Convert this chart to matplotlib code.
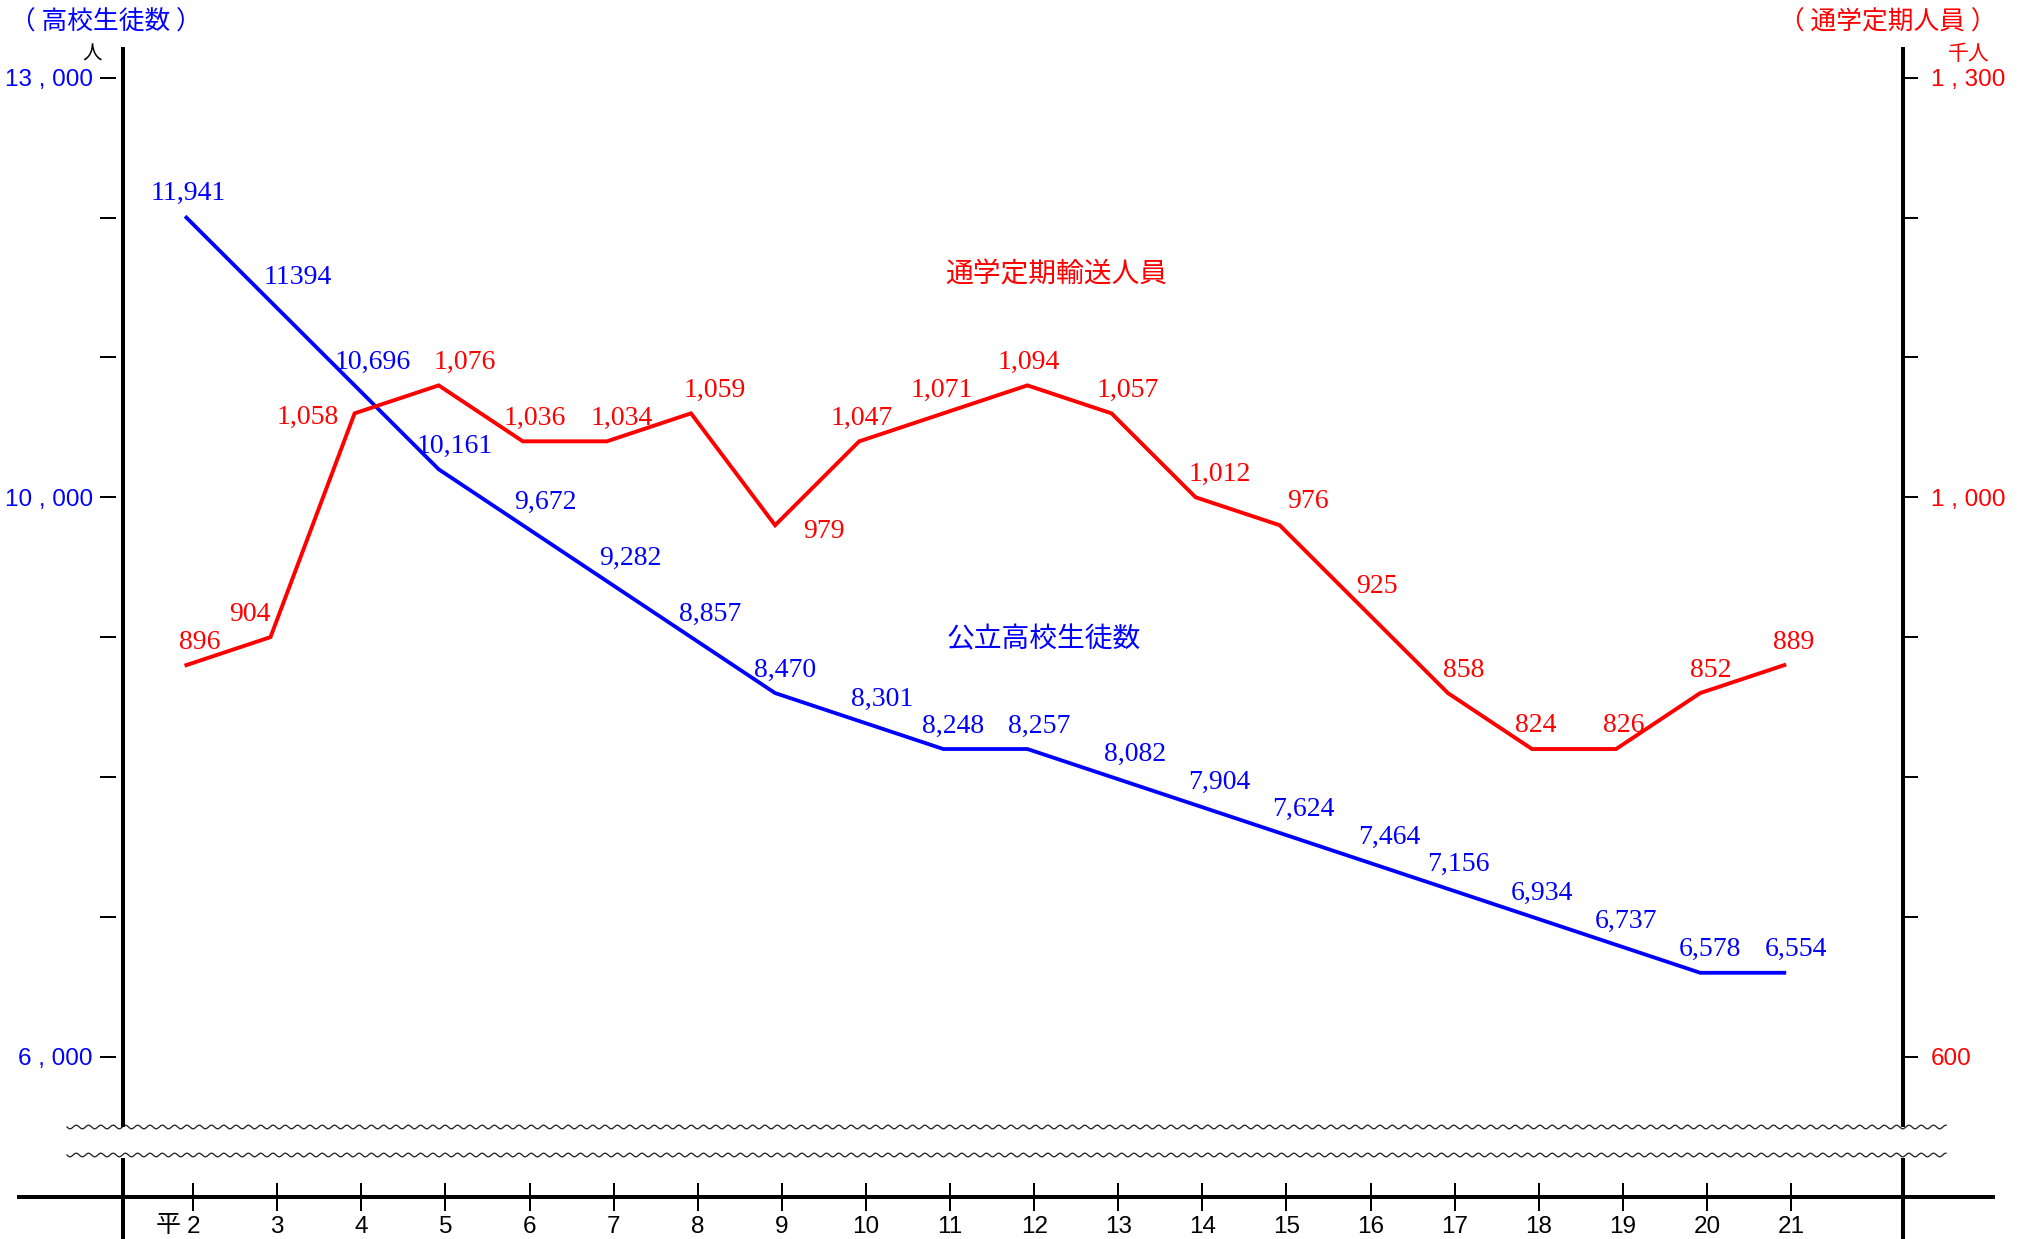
import numpy as np
import matplotlib
matplotlib.use("Agg")
import matplotlib.pyplot as plt

# ---------------- data ----------------
years = [2, 3, 4, 5, 6, 7, 8, 9, 10, 11, 12, 13, 14, 15, 16, 17, 18, 19, 20, 21]
year_labels = ["2", "3", "4", "5", "6", "7", "8", "9", "10", "11", "12", "13",
               "14", "15", "16", "17", "18", "19", "20", "21"]
era_prefix = "平"

# 公立高校生徒数 (人) : value labels and the line heights as drawn
students_text = ["11,941", "11394", "10,696", "10,161", "9,672", "9,282", "8,857",
                 "8,470", "8,301", "8,248", "8,257", "8,082", "7,904", "7,624",
                 "7,464", "7,156", "6,934", "6,737", "6,578", "6,554"]
students_line = [12000, 11400, 10800, 10200, 9800, 9400, 9000, 8600, 8400, 8200,
                 8200, 8000, 7800, 7600, 7400, 7200, 7000, 6800, 6600, 6600]

# 通学定期輸送人員 (千人)
commuters_text = ["896", "904", "1,058", "1,076", "1,036", "1,034", "1,059", "979",
                  "1,047", "1,071", "1,094", "1,057", "1,012", "976", "925", "858",
                  "824", "826", "852", "889"]
commuters_line = [880, 900, 1060, 1080, 1040, 1040, 1060, 980, 1040, 1060, 1080,
                  1060, 1000, 980, 920, 860, 820, 820, 860, 880]

left_ticks = [6000, 7000, 8000, 9000, 10000, 11000, 12000, 13000]
left_ticklabels = ["6 , 000", "", "", "", "10 , 000", "", "", "13 , 000"]
right_ticks = [600, 700, 800, 900, 1000, 1100, 1200, 1300]
right_ticklabels = ["600", "", "", "", "1 , 000", "", "", "1 , 300"]

# ---------------- styling / geometry (pixels) ----------------
W, H, DPI = 2024, 1239, 100
PT = 72.0 / DPI
BLUE, RED = "#0000FF", "#FF0000"
SERIF = "Liberation Serif"
SANS = ["Liberation Sans", "Noto Sans CJK JP"]
CJK = ["Noto Sans CJK JP", "DejaVu Sans"]
TICK_FS = 17.5
VAL_FS = 20

L_X, R_X = 123.3, 1902.7        # spines
TOP_Y, BRK_Y = 49.0, 1125.0     # axis top / break
X0_PX, XSTEP = 186.4, 84.1      # first point, year spacing
Y_HI, Y_LO = 77.7, 1056.7       # pixel of 13000/1300 and 6000/600
BASE_Y = 1196.7                 # bottom axis line

# label offsets (px, centre of label relative to point; y down)
blue_dx = [2, 27, 18, 16, 23, 23, 19, 10, 23, 10, 12, 24, 24, 24, 25, 10, 10, 10, 10, 12]
blue_dy = [-27, -27, -26, -26, -26, -26, -26, -26, -25, -26, -26, -26, -26, -27,
           -26, -27, -26, -26, -26, -26]
red_dx = [13, -21, -47, 26, 12, 15, 24, 49, 3, -2, 1, 16, 24, 28, 13, 16, 4, 8, 11, 9]
red_dy = [-26, -26, 1, -26, -26, -26, -26, 3, -26, -26, -26, -26, -26, -27, -26,
          -26, -27, -27, -26, -26]

fig = plt.figure(figsize=(W / DPI, H / DPI), dpi=DPI)

# decoration overlay in pixel coordinates
deco = fig.add_axes([0, 0, 1, 1], zorder=0)
deco.set_xlim(0, W)
deco.set_ylim(H, 0)
deco.axis("off")
deco.patch.set_visible(False)

def rect(x0, y0, x1, y1):
    return [x0 / W, 1 - y1 / H, (x1 - x0) / W, (y1 - y0) / H]

ax = fig.add_axes(rect(L_X, TOP_Y, R_X, BRK_Y), zorder=2)
ax.patch.set_visible(False)
xlim = (2 + (L_X - X0_PX) / XSTEP, 2 + (R_X - X0_PX) / XSTEP)
ax.set_xlim(*xlim)
ppu_l = (Y_LO - Y_HI) / 7000.0
ax.set_ylim(6000 - (BRK_Y - Y_LO) / ppu_l, 13000 + (Y_HI - TOP_Y) / ppu_l)

ax2 = ax.twinx()
ppu_r = (Y_LO - Y_HI) / 700.0
ax2.set_ylim(600 - (BRK_Y - Y_LO) / ppu_r, 1300 + (Y_HI - TOP_Y) / ppu_r)

for a in (ax, ax2):
    for s in ("top", "bottom"):
        a.spines[s].set_visible(False)
    a.set_xticks([])
ax.spines["right"].set_visible(False)
ax2.spines["left"].set_visible(False)
ax.spines["left"].set_linewidth(4 * PT)
ax2.spines["right"].set_linewidth(4 * PT)

# left axis: ticks with a small gap from the spine
ax.set_yticks(left_ticks)
ax.set_yticklabels(left_ticklabels)
ax.tick_params(axis="y", length=0, pad=(L_X - 93) * PT, labelsize=TICK_FS,
               labelcolor=BLUE)
for t in ax.get_yticklabels():
    t.set_fontfamily(SANS)
axw = R_X - L_X
for v in left_ticks:
    ax.plot([(101 - L_X) / axw, (115 - L_X) / axw], [v, v], color="black",
            lw=2 * PT, transform=ax.get_yaxis_transform(), clip_on=False)

# right axis
ax2.set_yticks(right_ticks)
ax2.set_yticklabels(right_ticklabels)
ax2.tick_params(axis="y", length=15 * PT, width=2 * PT, direction="out",
                pad=13 * PT, color="black", labelsize=TICK_FS, labelcolor=RED)
for t in ax2.get_yticklabels():
    t.set_fontfamily(SANS)

# lines
ax.plot(years, students_line, color=BLUE, lw=3.8 * PT, solid_joinstyle="miter")
ax2.plot(years, commuters_line, color=RED, lw=3.9 * PT, solid_joinstyle="miter")

for x, v, s, dx, dy in zip(years, students_line, students_text, blue_dx, blue_dy):
    ax.annotate(s, (x, v), xytext=(dx * PT, -(dy + 9.5) * PT), textcoords="offset points",
                ha="center", va="baseline", color=BLUE, fontsize=VAL_FS, family=SERIF)
for x, v, s, dx, dy in zip(years, commuters_line, commuters_text, red_dx, red_dy):
    ax2.annotate(s, (x, v), xytext=(dx * PT, -(dy + 9.5) * PT), textcoords="offset points",
                 ha="center", va="baseline", color=RED, fontsize=VAL_FS, family=SERIF)

# bottom band axis with year ticks
axb = fig.add_axes(rect(L_X, 1160, R_X, BASE_Y), zorder=2)
axb.patch.set_visible(False)
axb.set_xlim(*xlim)
axb.set_ylim(0, 1)
for s in axb.spines.values():
    s.set_visible(False)
axb.set_yticks([])
tick_shift = 0.08
axb.set_xticks([y + tick_shift for y in years])
axb.set_xticklabels(year_labels)
axb.tick_params(axis="x", direction="inout", length=28 * PT, width=2 * PT,
                pad=4, color="black", labelsize=TICK_FS, labelcolor="black")
for t in axb.get_xticklabels():
    t.set_fontfamily(SANS)
axb.annotate(era_prefix, (years[0] + tick_shift, 0), xycoords=axb.get_xaxis_transform(),
             xytext=(-12 * PT, -28.5 * PT), textcoords="offset points",
             ha="right", va="center", fontsize=18, family=CJK, color="black")

# decorations: base line, lower spine pieces, wavy break lines
deco.plot([17, 1995], [BASE_Y, BASE_Y], color="black", lw=4 * PT, solid_capstyle="butt")
for xs in (L_X, R_X):
    deco.plot([xs, xs], [1158, H + 5], color="black", lw=4 * PT, solid_capstyle="butt")
wx = np.linspace(67, 1946, 3000)
for yb in (1127.0, 1155.0):
    deco.plot(wx, yb + 1.8 * np.sin(2 * np.pi * (wx - 67) / 12.3), color="#222222",
              lw=1.3 * PT)

# texts
def ftext(px, py, s, **kw):
    fig.text(px / W, 1 - py / H, s, **kw)

ftext(106, 23, "（ 高校生徒数 ）", ha="center", va="center", color=BLUE, fontsize=18.5, family=CJK)
ftext(92, 54, "人", ha="center", va="center", color="black", fontsize=14, family=CJK)
ftext(1888, 23, "（ 通学定期人員 ）", ha="center", va="center", color=RED, fontsize=18.5, family=CJK)
ftext(1969, 54, "千人", ha="center", va="center", color=RED, fontsize=15, family=CJK)
ftext(1056, 274, "通学定期輸送人員", ha="center", va="center", color=RED, fontsize=20, family=CJK)
ftext(1044, 639, "公立高校生徒数", ha="center", va="center", color=BLUE, fontsize=20, family=CJK)

fig.savefig("out.png", dpi=DPI)
